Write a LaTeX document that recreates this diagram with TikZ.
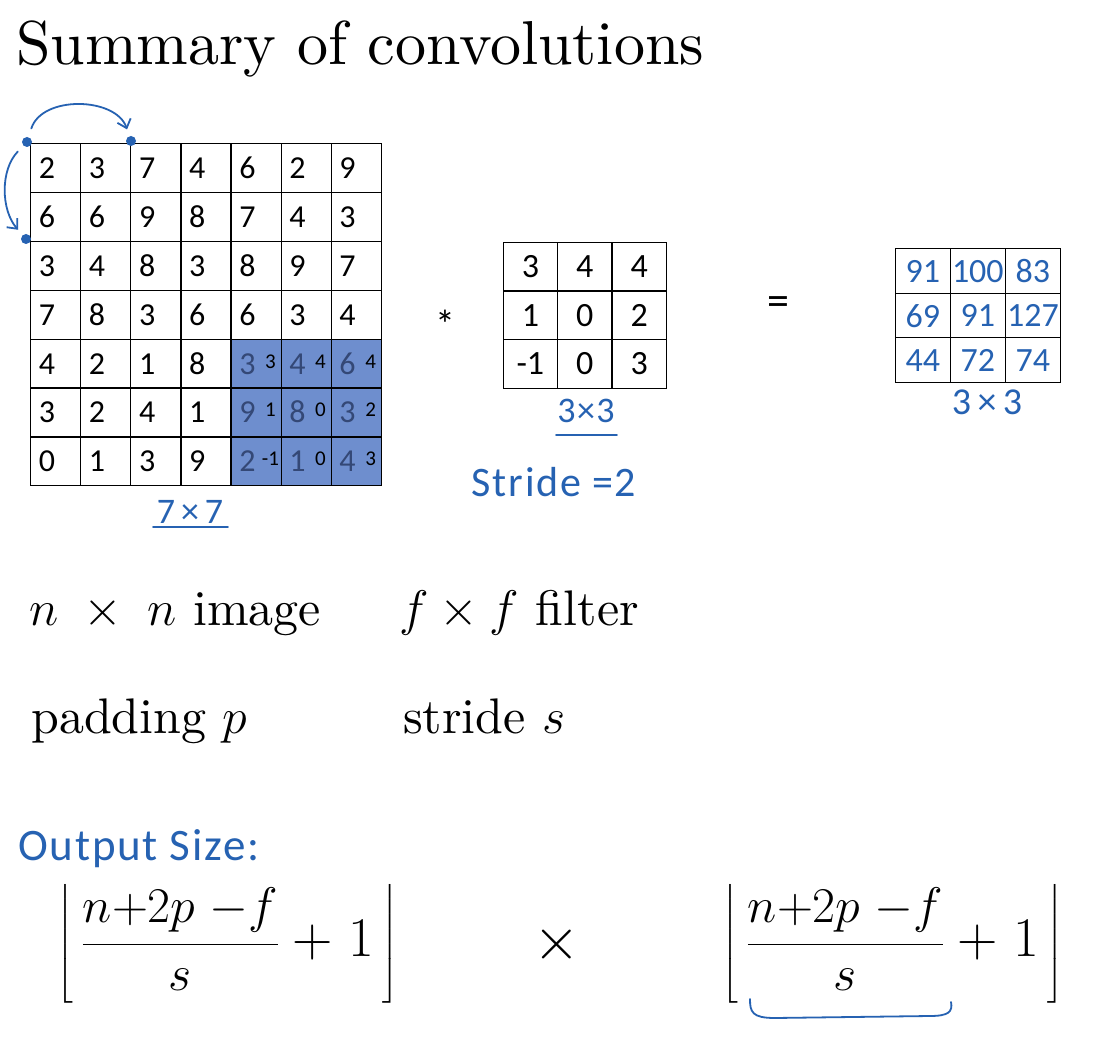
\RequirePackage{fix-cm}
\documentclass[tikz,border=0pt]{standalone}
\usepackage{amsmath}
\usepackage{fontspec}
\usetikzlibrary{arrows.meta,positioning}
\setmainfont{lmroman10-regular}[Extension=.otf, ItalicFont=lmroman10-italic, BoldFont=lmroman10-bold]
\newfontfamily\cellfont{Carlito}
\newfontfamily\handfont{Carlito}[LetterSpace=4]
\definecolor{handblue}{RGB}{38,98,178}
\definecolor{hlfill}{RGB}{110,142,206}
\definecolor{hltext}{RGB}{52,72,118}
\newcommand{\pxfont}[1]{\fontsize{#1}{#1}\selectfont}
\newcommand{\outdim}{\left\lfloor\mkern3mu\frac{n{+}2p\;{-}f}{s}\;\mbox{\pxfont{56}$+\;1$}\mkern3mu\right\rfloor}

\begin{document}
\begin{tikzpicture}[
    x=1pt, y=-1pt,
    cell/.style={draw, line width=1.2pt, anchor=north west, inner sep=0pt, minimum width=50.1pt, minimum height=48.9pt},
    fcell/.style={cell, minimum width=54.4pt, minimum height=48.7pt, font=\cellfont\pxfont{34}},
    ocell/.style={cell, minimum width=55.1pt, minimum height=44.5pt, text=handblue, font=\cellfont\pxfont{34}},
    num/.style={anchor=base, inner sep=0pt, font=\cellfont\pxfont{32}},
    sup/.style={anchor=base, inner sep=0pt, font=\cellfont\pxfont{21}},
    hand/.style={text=handblue, inner sep=0pt, font=\handfont\pxfont{#1}},
    hand/.default=36,
    handline/.style={draw=handblue, line width=1.8pt, line cap=round},
    dot/.style={circle, fill=handblue, inner sep=0pt, minimum size=10pt},
    txt/.style={anchor=base west, inner sep=0pt, font=\pxfont{50}},
    formula/.style={inner sep=0pt, font=\pxfont{50}},
]
\useasboundingbox (0,0) rectangle (1117,1056);
\fill[white] (0,0) rectangle (1117,1056);

% Title
\node[anchor=base west, inner sep=0pt, font=\pxfont{62}] (title) at (16,65) {Summary of convolutions};

% Image 7x7
\fill[hlfill] (230.4,338.6) rectangle (381,485.3);
\foreach \i in {0,...,6}
  \foreach \j in {0,...,6}
    \node[cell] (img-\i-\j) at ({30+50.1*\j},{143+48.9*\i}) {};
\foreach \row [count=\i from 0] in {{2,3,7,4,6,2,9},{6,6,9,8,7,4,3},{3,4,8,3,8,9,7},{7,8,3,6,6,3,4},{4,2,1,8},{3,2,4,1},{0,1,3,9}}
  \foreach \v [count=\j from 0] in \row
    \node[num] at ({47+50.1*\j},{178.5+48.9*\i}) {\v};
\foreach \row [count=\i from 4] in {{3/3,4/4,6/4},{9/1,8/0,3/2},{2/-1,1/0,4/3}}
  \foreach \v/\w [count=\j from 4] in \row {
    \node[num, text=hltext] at ({47+50.1*\j},{178.5+48.9*\i}) {\v};
    \node[sup] at ({70+50.1*\j},{172.5+48.9*\i}) {\w};
  }

% Stride arrows
\node[dot] (d0) at (27,142) {};
\node[dot] (d1) at (131,141) {};
\node[dot] (d2) at (26,239) {};
\draw[handline, -{Straight Barb[length=8pt,width=14pt]}, shorten <=9pt, shorten >=7pt] (d0) .. controls (42,95) and (116,97) .. (d1);
\draw[handline, -{Straight Barb[length=8pt,width=14pt]}, shorten <=8pt, shorten >=7pt] (d0) .. controls (0,170) and (1,210) .. (d2);

\node[hand] (imgsize) at (190,512) {7\,×\,7};
\draw[handline] (153,527) -- (228,527);

% Filter 3x3
\node[font=\cellfont\pxfont{40}] (conv) at (445,324) {*};
\foreach \row [count=\i from 0] in {{3,4,4},{1,0,2},{-1,0,3}}
  \foreach \v [count=\j from 0] in \row
    \node[fcell] (flt-\i-\j) at ({502.6+54.4*\j},{241.7+48.7*\i}) {\v};
\node[hand] (fltsize) at (586,411) {3×3};
\draw[handline] (556,435) -- (617,435);
\node[hand=42] (stride) at (554,482) {Stride =2};

% Output 3x3
\node[font=\cellfont\pxfont{44}] (eq) at (778,306) {=};
\foreach \row [count=\i from 0] in {{91,100,83},{69,91,127},{44,72,74}}
  \foreach \v [count=\j from 0] in \row
    \node[ocell] (out-\i-\j) at ({894.6+55.1*\j},{248.3+44.5*\i}) {\v};
\node[hand=38] (outsize) at (987,402) {3\,×\,3};

% Notation
\node[txt] (imgtxt) at (29,625) {$n \;\times\; n$ image};
\node[txt] (flttxt) at (399,625) {$f \times f$ filter};
\node[txt] (padtxt) at (31,733) {padding $p$};
\node[txt] (stridetxt) at (403,733) {stride $s$};

% Output size
\node[hand=45, anchor=base west] (outlbl) at (18,860) {Output Size:};
\node[formula] (outh) at (228,944) {$\displaystyle\outdim$};
\node[font=\pxfont{60}, inner sep=0pt] (times) at (557,944) {$\times$};
\node[formula] (outw) at (893,944) {$\displaystyle\outdim$};
\draw[handline] (750,999) .. controls (750,1012) and (752,1018) .. (775,1018) -- (930,1016) .. controls (948,1016) and (953,1012) .. (951,1002);
\end{tikzpicture}
\end{document}
